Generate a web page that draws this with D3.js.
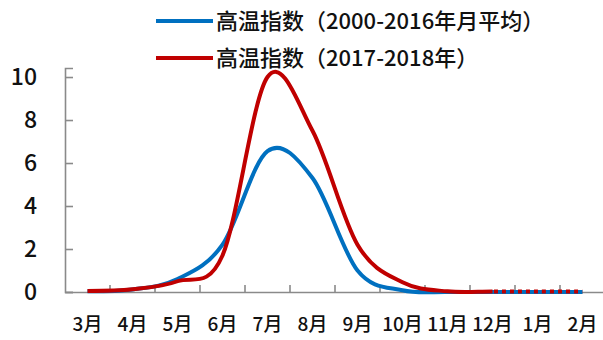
<!DOCTYPE html>
<html lang="zh">
<head>
    <meta charset="UTF-8">
    <title>高温指数</title>
    <script src="https://d3js.org/d3.v7.min.js"></script>
    <style>
        body { margin: 0; background: #fff; }
        text { font-family: "Noto Sans CJK SC", "Noto Sans", sans-serif; fill: #111; }
    </style>
</head>
<body>
    <div id="chart"></div>
    <script>
        // months on the category axis, March to February
        const months = ["3月", "4月", "5月", "6月", "7月", "8月", "9月", "10月", "11月", "12月", "1月", "2月"];
        // monthly mean heat index 2000-2016
        const histAvg = [0.03, 0.12, 0.6, 2.2, 6.55, 5.3, 1.0, 0.08, 0, 0, 0, 0];
        // heat index 2017-2018
        const recent = [0.05, 0.13, 0.5, 1.7, 10.0, 7.5, 2.2, 0.45, 0.03, 0.02, 0.02, 0.02];
        // last observed month of the 2017-2018 series, dotted afterwards
        const lastObserved = "12月";
        const yTicks = [0, 2, 4, 6, 8, 10];
        const seriesNames = ["高温指数（2000-2016年月平均）", "高温指数（2017-2018年）"];
        const seriesColors = ["#0070C0", "#C00000"];

        const width = 603, height = 340;
        const margin = { left: 65, right: -2, top: 68, bottom: 48 };

        const svg = d3.select("#chart").append("svg")
            .attr("width", width)
            .attr("height", height);

        const x = d3.scaleBand()
            .domain(months)
            .range([margin.left, width - margin.right]);

        const y = d3.scaleLinear()
            .domain([0, 10.42])
            .range([height - margin.bottom, margin.top]);

        const cx = d => x(d) + x.bandwidth() / 2;
        const axisColor = "#8a8a8a";

        // y axis
        const yAxis = svg.append("g")
            .attr("transform", `translate(${margin.left},0)`)
            .call(d3.axisLeft(y).tickValues(yTicks).tickSize(-8).tickPadding(28));
        yAxis.select(".domain").attr("stroke", axisColor).attr("stroke-width", 1.6);
        yAxis.selectAll(".tick line").attr("stroke", axisColor).attr("stroke-width", 1.6);
        yAxis.selectAll(".tick text")
            .attr("font-size", 23)
            .attr("font-weight", 500)
            .attr("font-family", "'Noto Sans CJK SC', sans-serif")
            .attr("fill", "#111");

        // x axis: labels centred in each month, ticks on the month boundaries
        const xAxis = svg.append("g")
            .attr("transform", `translate(0,${y(0)})`)
            .call(d3.axisBottom(x).tickSize(0).tickPadding(26));
        xAxis.select(".domain").attr("stroke", axisColor).attr("stroke-width", 1.6);
        xAxis.selectAll(".tick text")
            .attr("font-size", 19)
            .attr("font-weight", 500)
            .attr("font-family", "'Noto Sans CJK SC', sans-serif")
            .attr("fill", "#111");
        xAxis.selectAll(".boundary")
            .data(months.slice(1))
            .enter().append("line")
            .attr("class", "boundary")
            .attr("x1", d => x(d)).attr("x2", d => x(d))
            .attr("y1", 0).attr("y2", -7)
            .attr("stroke", axisColor)
            .attr("stroke-width", 1.6);

        const line = d3.line()
            .x(d => cx(d.month))
            .y(d => y(d.value))
            .curve(d3.curveCardinal.tension(0));

        const histData = months.map((m, i) => ({ month: m, value: histAvg[i] }));
        const recentData = months.map((m, i) => ({ month: m, value: recent[i] }));

        // clip the 2017-2018 curve into an observed and a dotted part
        const splitX = cx(lastObserved);
        const defs = svg.append("defs");
        defs.append("clipPath").attr("id", "solidPart")
            .append("rect").attr("x", 0).attr("y", 0).attr("width", splitX).attr("height", height);
        defs.append("clipPath").attr("id", "dotPart")
            .append("rect").attr("x", splitX).attr("y", 0).attr("width", width - splitX).attr("height", height);

        svg.append("path")
            .datum(histData)
            .attr("d", line)
            .attr("fill", "none")
            .attr("stroke", seriesColors[0])
            .attr("stroke-width", 4)
            .attr("stroke-linejoin", "round");

        svg.append("path")
            .datum(recentData)
            .attr("d", line)
            .attr("fill", "none")
            .attr("stroke", seriesColors[1])
            .attr("stroke-width", 4)
            .attr("stroke-linejoin", "round")
            .attr("clip-path", "url(#solidPart)");

        svg.append("path")
            .datum(recentData)
            .attr("d", line)
            .attr("fill", "none")
            .attr("stroke", seriesColors[1])
            .attr("stroke-width", 4)
            .attr("stroke-dasharray", "4,4")
            .attr("clip-path", "url(#dotPart)");

        // legend
        const legend = svg.append("g");
        const legendRows = [21, 58];
        seriesNames.forEach((name, i) => {
            legend.append("line")
                .attr("x1", 156).attr("x2", 213)
                .attr("y1", legendRows[i]).attr("y2", legendRows[i])
                .attr("stroke", seriesColors[i])
                .attr("stroke-width", 4);
            legend.append("text")
                .attr("x", 216)
                .attr("y", legendRows[i])
                .attr("dy", "0.35em")
                .attr("font-size", 22)
                .attr("font-weight", 500)
                .text(name);
        });
    </script>
</body>
</html>
